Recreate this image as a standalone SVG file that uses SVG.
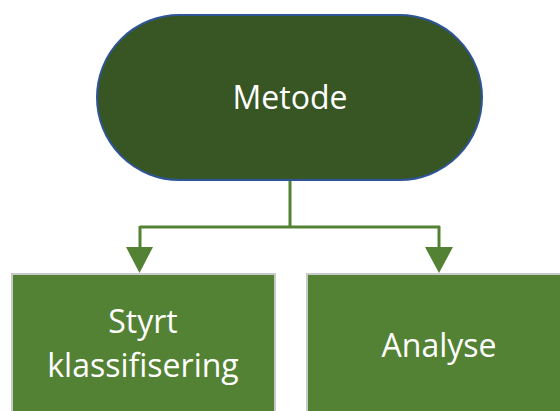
<svg xmlns="http://www.w3.org/2000/svg" width="560" height="411" viewBox="0 0 560 411">
<style>
.lbl{font-family:"Open Sans","Noto Sans","Liberation Sans",sans-serif;font-size:32px;fill:#ffffff;text-anchor:middle}
.box{fill:#548235;stroke:#c9c9c9;stroke-width:2}
.conn{fill:none;stroke:#548235;stroke-width:3}
.head{fill:#548235}
</style>
<g id="metode">
<rect x="97" y="15" width="385" height="165" rx="82.5" ry="82.5" fill="#375623" stroke="#2f5597" stroke-width="2"/>
<text class="lbl" x="290" y="109">Metode</text>
</g>
<g id="connectors">
<path class="conn" d="M290 181 V227 M140 227 H440 M140 226 V250 M439 226 V250"/>
<polygon class="head" points="126,247 153,247 139.5,273"/>
<polygon class="head" points="425,247 453,247 439,273"/>
</g>
<g id="styrt">
<rect class="box" x="12" y="274" width="263" height="150"/>
<text class="lbl" x="143" y="333">Styrt</text>
<text class="lbl" x="143" y="377">klassifisering</text>
</g>
<g id="analyse">
<rect class="box" x="307" y="274" width="270" height="150"/>
<text class="lbl" x="439" y="357">Analyse</text>
</g>
</svg>
